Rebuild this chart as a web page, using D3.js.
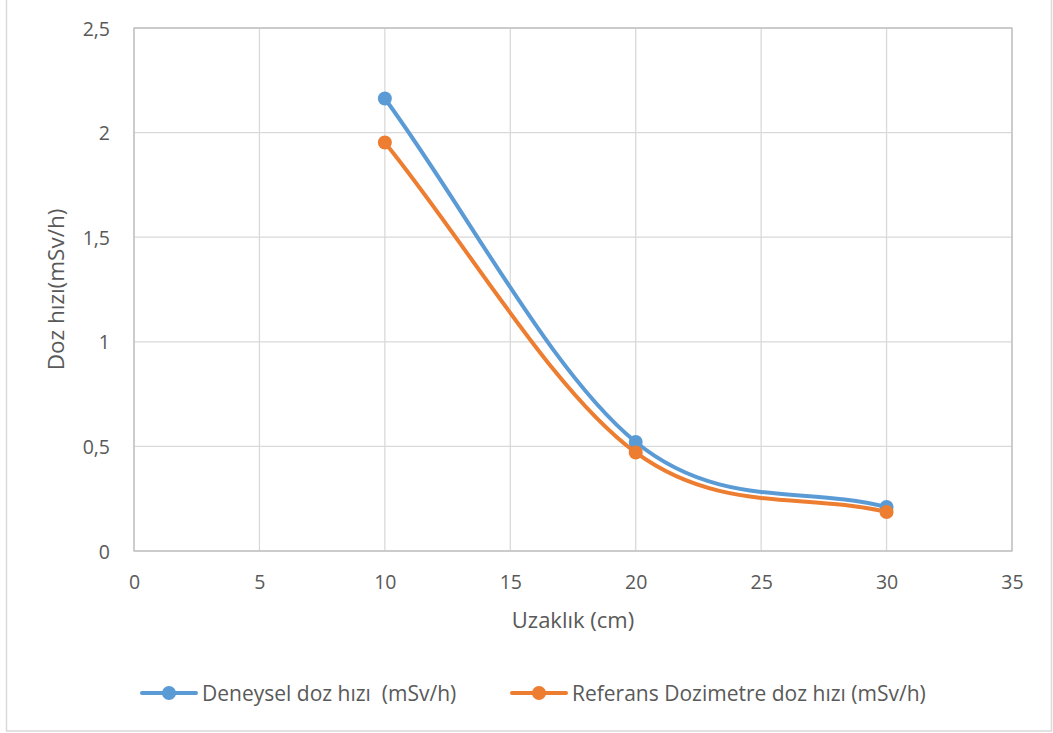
<!DOCTYPE html>
<html>
<head>
<meta charset="utf-8">
<script src="https://cdn.jsdelivr.net/npm/d3@7"></script>
<style>
  html, body { margin: 0; padding: 0; background: #fff; }
  svg text { font-family: "Open Sans", Lato, sans-serif; fill: #595959; }
</style>
</head>
<body>
<svg id="chart" width="1053" height="733"></svg>
<script>
// Distance from the source (cm)
const distances = [10, 20, 30];
// Measured dose rate (mSv/h)
const deneysel = [2.163, 0.521, 0.21];
// Reference dosimeter dose rate (mSv/h)
const referans = [1.953, 0.471, 0.186];

const xTicks = [0, 5, 10, 15, 20, 25, 30, 35];
const yTicks = [0, 0.5, 1, 1.5, 2, 2.5];

const seriesNames = ["Deneysel doz hızı  (mSv/h)", "Referans Dozimetre doz hızı (mSv/h)"];
const seriesColors = ["#5B9BD5", "#ED7D31"];

const svg = d3.select("#chart");

// Outer chart frame
svg.append("rect")
  .attr("x", 6.5).attr("y", -2).attr("width", 1045).attr("height", 733)
  .attr("fill", "none").attr("stroke", "#d9d9d9").attr("stroke-width", 1.5);

const plot = { left: 134, top: 28, right: 1012, bottom: 551 };

const x = d3.scaleLinear().domain([0, 35]).range([plot.left, plot.right]);
const y = d3.scaleLinear().domain([0, 2.5]).range([plot.bottom, plot.top]);

const fmt = d => String(d).replace(".", ",");

// Gridlines
const grid = svg.append("g");
grid.selectAll("line.v").data(xTicks).join("line")
  .attr("x1", d => x(d)).attr("x2", d => x(d))
  .attr("y1", plot.top).attr("y2", plot.bottom)
  .attr("stroke", "#d9d9d9").attr("stroke-width", 1.3);
grid.selectAll("line.h").data(yTicks).join("line")
  .attr("x1", plot.left).attr("x2", plot.right)
  .attr("y1", d => y(d)).attr("y2", d => y(d))
  .attr("stroke", "#d9d9d9").attr("stroke-width", 1.3);

// Plot area border
svg.append("rect")
  .attr("x", plot.left).attr("y", plot.top)
  .attr("width", plot.right - plot.left).attr("height", plot.bottom - plot.top)
  .attr("fill", "none").attr("stroke", "#bfbfbf").attr("stroke-width", 1.3);

// Axes (labels only; lines come from the grid and border)
const xAxis = svg.append("g")
  .attr("transform", `translate(0,${plot.bottom})`)
  .call(d3.axisBottom(x).tickValues(xTicks).tickFormat(fmt).tickSize(0).tickPadding(24));
const yAxis = svg.append("g")
  .attr("transform", `translate(${plot.left},0)`)
  .call(d3.axisLeft(y).tickValues(yTicks).tickFormat(fmt).tickSize(0).tickPadding(24));
[xAxis, yAxis].forEach(a => {
  a.select(".domain").remove();
  a.selectAll("text").attr("font-size", 19.5).attr("fill", "#595959")
    .style("font-family", "'Open Sans', Lato, sans-serif");
});
yAxis.selectAll("text").attr("dy", "0.36em");

// Axis titles
svg.append("text")
  .attr("x", (plot.left + plot.right) / 2).attr("y", 628)
  .attr("text-anchor", "middle").attr("font-size", 22)
  .text("Uzaklık (cm)");
svg.append("text")
  .attr("transform", `translate(64,${(plot.top + plot.bottom) / 2}) rotate(-90)`)
  .attr("text-anchor", "middle").attr("font-size", 22.5)
  .text("Doz hızı(mSv/h)");

// Smoothed line: cubic Bézier segments with control points at 1/6 of the
// neighbour chord; end tangents follow the adjacent chord.
function smoothPath(pts) {
  const p = pts.map(d => [x(d[0]), y(d[1])]);
  const n = p.length;
  const at = i => {
    if (i < 0) return [2 * p[0][0] - p[1][0], 2 * p[0][1] - p[1][1]];
    if (i >= n) return [2 * p[n - 1][0] - p[n - 2][0], 2 * p[n - 1][1] - p[n - 2][1]];
    return p[i];
  };
  const path = d3.path();
  path.moveTo(p[0][0], p[0][1]);
  for (let i = 0; i < n - 1; i++) {
    const a = at(i - 1), b = at(i), c = at(i + 1), d = at(i + 2);
    path.bezierCurveTo(
      b[0] + (c[0] - a[0]) / 6, b[1] + (c[1] - a[1]) / 6,
      c[0] - (d[0] - b[0]) / 6, c[1] - (d[1] - b[1]) / 6,
      c[0], c[1]);
  }
  return path.toString();
}

// Series
const series = [deneysel, referans];
series.forEach((vals, i) => {
  const pts = distances.map((d, j) => [d, vals[j]]);
  svg.append("path")
    .attr("d", smoothPath(pts))
    .attr("fill", "none").attr("stroke", seriesColors[i])
    .attr("stroke-width", 4).attr("stroke-linecap", "round");
  svg.selectAll(null).data(pts).join("circle")
    .attr("cx", d => x(d[0])).attr("cy", d => y(d[1])).attr("r", 7)
    .attr("fill", seriesColors[i]);
});

// Legend
const legendX = [142, 512];
seriesNames.forEach((name, i) => {
  const g = svg.append("g").attr("transform", `translate(${legendX[i]},693)`);
  g.append("line").attr("x1", 0).attr("x2", 54).attr("y1", 0).attr("y2", 0)
    .attr("stroke", seriesColors[i]).attr("stroke-width", 4).attr("stroke-linecap", "round");
  g.append("circle").attr("cx", 27).attr("cy", 0).attr("r", 7).attr("fill", seriesColors[i]);
  g.append("text").attr("x", 60).attr("y", 7.5)
    .attr("font-size", 21).attr("xml:space", "preserve")
    .style("white-space", "pre")
    .text(name);
});
</script>
</body>
</html>
